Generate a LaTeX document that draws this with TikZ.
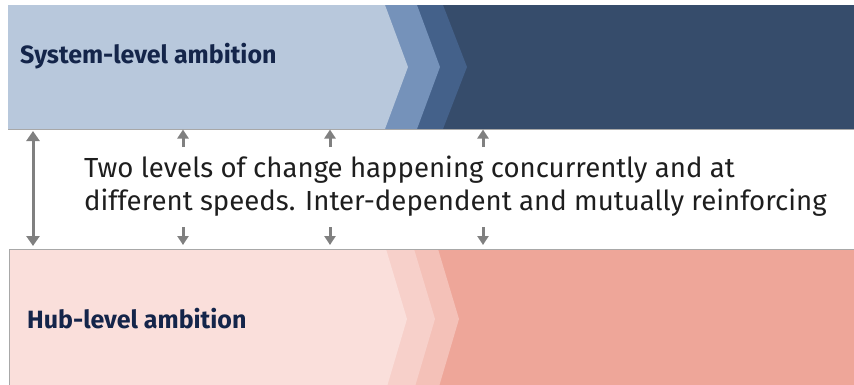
\documentclass[tikz,border=0pt]{standalone}
\usepackage{fontspec}
\setmainfont{Fira Sans}
\usetikzlibrary{arrows.meta}
\definecolor{topA}{HTML}{B8C8DC}
\definecolor{topB}{HTML}{7592BA}
\definecolor{topC}{HTML}{44618A}
\definecolor{topD}{HTML}{364C6B}
\definecolor{botA}{HTML}{FADFDB}
\definecolor{botB}{HTML}{F7D0CA}
\definecolor{botC}{HTML}{F4C1B8}
\definecolor{botD}{HTML}{EEA699}
\definecolor{navy}{HTML}{14254A}
\definecolor{arrowgray}{HTML}{808080}
\definecolor{edgegray}{HTML}{A8A8A8}
\definecolor{bodytext}{HTML}{1E1E1E}
\tikzset{
  label/.style={font=\fontsize{25}{28}\selectfont\bfseries, text=navy, inner sep=0pt, anchor=base west},
  bodytxt/.style={font=\fontsize{27.6}{33}\selectfont, text=bodytext, inner sep=0pt, align=left, anchor=base west},
  dbl/.style={arrowgray, line width=3pt, {Triangle[width=13pt,length=10pt]}-{Triangle[width=13pt,length=10pt]}},
  sgl/.style={arrowgray, line width=3pt, -{Triangle[width=11pt,length=9pt]}},
  edge/.style={edgegray, line width=0.8pt}
}
\begin{document}
\begin{tikzpicture}[x=1pt,y=-1pt]
\useasboundingbox (0,0) rectangle (854,384);
\begin{scope}
\clip (0,0) rectangle (854,384);
% top band
\fill[topD] (8,5) rectangle (854,129);
\fill[topC] (8,5) -- (443,5) -- (467,67) -- (443,129) -- (8,129) -- cycle;
\fill[topB] (8,5) -- (417,5) -- (440,67) -- (417,129) -- (8,129) -- cycle;
\fill[topA] (8,5) -- (385,5) -- (408,67) -- (385,129) -- (8,129) -- cycle;
\draw[edge] (8,129) -- (854,129);
% bottom band
\fill[botD] (9,249) rectangle (854,390);
\fill[botC] (9,249) -- (438,249) -- (459,319) -- (438,390) -- (9,390) -- cycle;
\fill[botB] (9,249) -- (414,249) -- (435,319) -- (414,390) -- (9,390) -- cycle;
\fill[botA] (9,249) -- (386,249) -- (407,319) -- (386,390) -- (9,390) -- cycle;
\draw[edge] (9,390) -- (9,249) -- (854,249);
\end{scope}
\node[label] (sys) at (20,63) {System-level ambition};
\node[label] (hub) at (27,328) {Hub-level ambition};
\node[bodytxt] (txt) at (84,210) {Two levels of change happening concurrently and at\\different speeds. Inter-dependent and mutually reinforcing};
% arrows
\coordinate (d1) at (33,131);
\coordinate (d2) at (33,246);
\draw[dbl] (d1) -- (d2);
\foreach \x in {183,330,483}{
  \coordinate (u0) at (\x,147);
  \coordinate (u1) at (\x,129.5);
  \draw[sgl] (u0) -- (u1);
  \coordinate (v0) at (\x,227);
  \coordinate (v1) at (\x,245);
  \draw[sgl] (v0) -- (v1);
}
\end{tikzpicture}
\end{document}
